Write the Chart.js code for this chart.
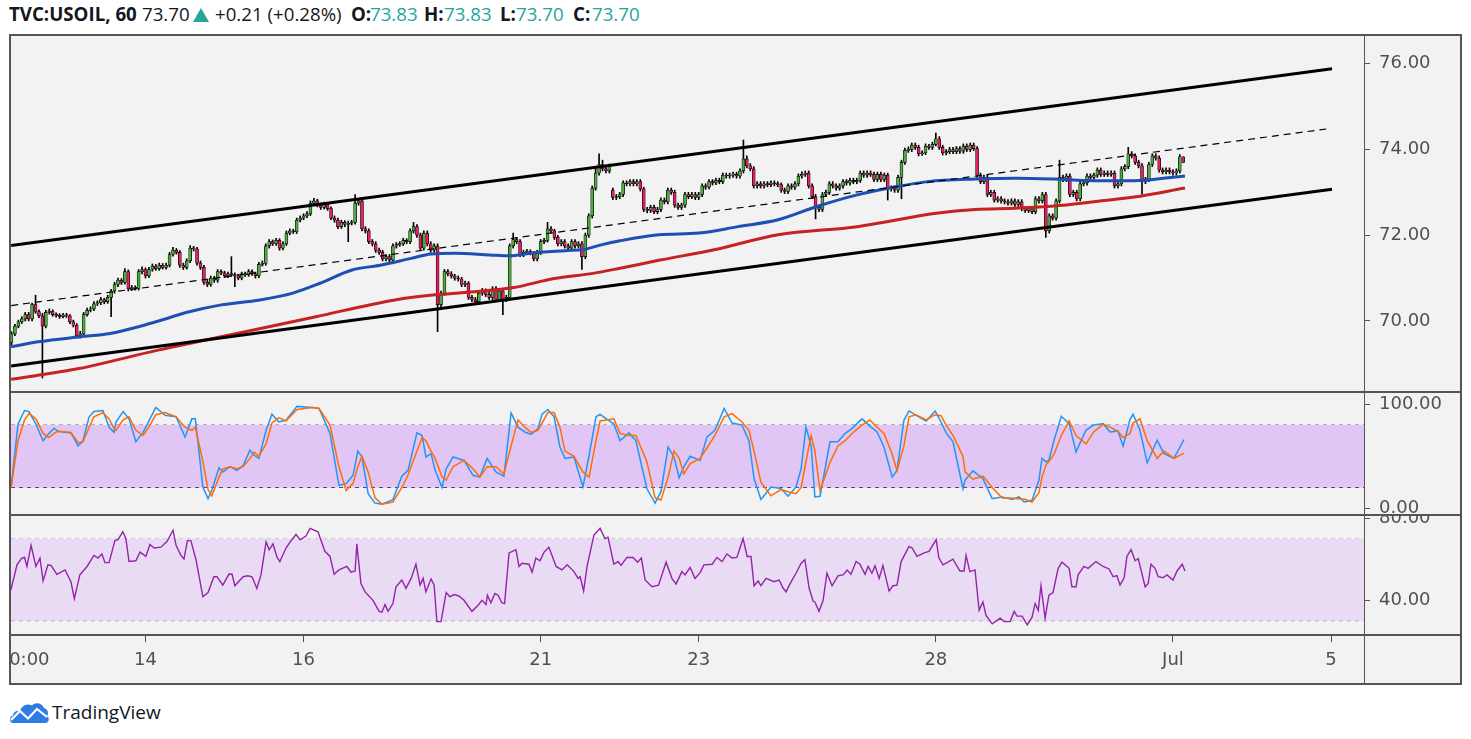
<!DOCTYPE html>
<html>
<head>
<meta charset="utf-8">
<title>TVC:USOIL, 60</title>
<script src="https://cdn.jsdelivr.net/npm/chart.js@4.4.0/dist/chart.umd.min.js"></script>
<style>
  html, body { margin: 0; padding: 0; background: #fff; }
  body { width: 1471px; height: 739px; position: relative; overflow: hidden; font-family: "Open Sans", sans-serif; }
  #head span { position: absolute; top: 2px; font-size: 18.7px; line-height: 24px; color: #131722; white-space: nowrap; }
  #head .b { font-weight: 700; }
  #head .up { color: #26a69a; }
  #head svg { position: absolute; left: 193px; top: 8px; }
  #frame { position: absolute; left: 9px; top: 34px; width: 1449px; height: 647px; border: 2px solid #555; background: #f2f2f2; }
  canvas { position: absolute; left: 11px; }
  .sep { position: absolute; left: 11px; width: 1449px; height: 2px; background: #555; }
  #vsep { position: absolute; left: 1364px; top: 36px; width: 1px; height: 647px; background: #555; }
  #logo { position: absolute; left: 9px; top: 699px; height: 26px; display: flex; align-items: center; }
  #logo span { font-size: 19px; color: #131722; margin-left: 3px; }
</style>
</head>
<body>
<div id="head">
  <span class="b" style="left:9px">TVC:USOIL, 60</span>
  <span style="left:142px">73.70</span>
  <svg width="16" height="14" viewBox="0 0 16 14"><polygon points="8,0 16,14 0,14" fill="#26a69a"/></svg>
  <span style="left:215px">+0.21 (+0.28%)</span>
  <span class="b" style="left:351px">O:</span><span class="up" style="left:370px">73.83</span>
  <span class="b" style="left:424px">H:</span><span class="up" style="left:444px">73.83</span>
  <span class="b" style="left:500px">L:</span><span class="up" style="left:516px">73.70</span>
  <span class="b" style="left:573px">C:</span><span class="up" style="left:592px">73.70</span>
</div>
<div id="frame"></div>
<canvas id="cMain" width="1449" height="355" style="top:36px"></canvas>
<canvas id="cStoch" width="1449" height="121" style="top:393px"></canvas>
<canvas id="cRsi" width="1449" height="167" style="top:516px"></canvas>
<div class="sep" style="top:391px"></div>
<div class="sep" style="top:514px"></div>
<div class="sep" style="top:634px"></div>
<div id="vsep"></div>
<div id="logo">
  <svg width="40" height="24" viewBox="0 0 40 24">
    <path d="M4 23 C0 23 0 16 4 15.5 C4 12 8 10 11 11.5 C12 6 18 3 23 5.5 C26 2 33 2.5 35 8 C39 9 40 14 38 16 C41 18 40 23 36 23 Z" fill="#2d7be5"/>
    <polyline points="2,20 11,11 19,18.5 28,9 38,17" stroke="#fff" stroke-width="2.2" fill="none" stroke-linejoin="round"/>
  </svg>
  <span>TradingView</span>
</div>
<script>
// hourly bars, x = trading-hour index (0 = 14 Jun 00:00, 23 bars per day)
const FIRST_BAR = -39;
const X_MIN = -39.14, X_MAX = 354.6;

const opens = [
  69.50,69.70,69.88,69.98,70.05,70.15,70.05,70.38,70.22,70.12,
  69.88,70.20,70.22,70.15,70.13,70.10,70.14,70.12,69.98,69.90,
  69.65,69.70,70.15,70.25,70.28,70.40,70.42,70.50,70.45,70.55,
  70.70,70.85,70.95,70.90,71.15,70.75,70.78,70.76,71.15,71.20,
  71.05,71.20,71.28,71.22,71.30,71.25,71.30,71.55,71.65,71.60,
  71.30,71.25,71.40,71.70,71.68,71.35,71.25,70.90,70.85,71.00,
  70.95,71.15,71.12,71.05,71.10,71.08,71.05,71.00,71.10,71.08,
  71.15,71.10,71.05,71.32,71.34,71.75,71.85,71.80,71.88,71.70,
  71.80,72.05,72.10,72.08,72.35,72.40,72.45,72.50,72.75,72.80,
  72.70,72.65,72.72,72.62,72.40,72.35,72.20,72.30,72.25,72.28,
  72.30,72.75,72.80,72.15,72.10,71.85,71.80,71.65,71.60,71.45,
  71.50,71.42,71.75,71.78,71.80,71.88,71.85,72.10,72.20,72.00,
  71.70,72.05,71.80,71.65,71.75,70.38,70.65,71.15,71.10,71.05,
  71.00,70.98,70.85,70.88,70.55,70.50,70.45,70.65,70.70,70.62,
  70.55,70.75,70.50,70.70,70.50,70.55,71.75,71.90,71.85,71.55,
  71.60,71.62,71.58,71.45,71.60,71.85,71.88,72.15,72.10,71.95,
  71.80,71.85,71.75,71.70,71.85,71.75,71.80,71.50,72.00,72.45,
  73.10,73.45,73.65,73.55,73.50,73.05,72.88,72.90,72.95,73.22,
  73.20,73.25,73.20,73.25,73.08,72.60,72.58,72.65,72.55,72.60,
  72.82,72.78,73.05,73.00,72.70,72.65,72.70,72.95,72.90,72.95,
  72.88,72.95,73.15,73.12,73.25,73.22,73.28,73.25,73.40,73.38,
  73.40,73.42,73.38,73.50,73.78,73.62,73.55,73.15,73.20,73.15,
  73.20,73.18,73.22,73.20,73.18,73.05,73.02,73.15,73.12,73.20,
  73.38,73.42,73.45,73.15,72.90,72.65,72.60,72.95,73.00,73.20,
  73.15,73.10,73.15,73.25,73.22,73.28,73.25,73.28,73.45,73.40,
  73.45,73.42,73.30,73.42,73.30,73.40,73.08,73.10,73.05,73.35,
  73.70,73.98,74.00,74.10,74.05,73.90,73.92,74.08,74.05,74.12,
  74.25,74.05,73.92,73.95,74.00,73.95,74.02,73.96,74.08,74.00,
  74.10,74.02,73.40,73.25,73.35,72.95,73.00,72.82,72.85,72.80,
  72.78,72.75,72.80,72.72,72.78,72.62,72.58,72.62,72.55,72.85,
  72.80,72.95,72.10,72.45,72.40,72.80,73.35,73.30,73.38,72.95,
  73.00,72.85,73.20,73.22,73.38,73.35,73.40,73.52,73.42,73.45,
  73.42,73.45,73.15,73.20,73.55,73.60,73.90,73.85,73.70,73.62,
  73.25,73.30,73.65,73.85,73.80,73.52,73.48,73.52,73.48,73.45,
  73.50,73.83
];
const highs = [
  69.75,69.92,70.02,70.10,70.20,70.20,70.42,70.60,70.26,70.18,
  70.25,70.28,70.26,70.19,70.17,70.18,70.18,70.15,70.02,69.94,
  69.76,70.20,70.30,70.33,70.45,70.47,70.55,70.53,70.60,70.74,
  70.90,71.00,70.99,71.22,71.19,70.83,70.82,71.20,71.26,71.24,
  71.25,71.33,71.32,71.35,71.34,71.35,71.60,71.72,71.69,71.64,
  71.35,71.45,71.76,71.74,71.72,71.40,71.30,70.95,71.05,71.04,
  71.20,71.19,71.16,71.14,71.50,71.12,71.09,71.14,71.14,71.20,
  71.19,71.14,71.37,71.40,71.80,71.90,71.89,71.93,71.92,71.85,
  72.10,72.15,72.14,72.40,72.45,72.50,72.55,72.80,72.86,72.84,
  72.75,72.77,72.76,72.66,72.45,72.40,72.35,72.34,72.33,72.35,
  72.95,72.86,72.85,72.20,72.15,71.90,71.85,71.70,71.65,71.55,
  71.55,71.80,71.83,71.85,71.93,71.92,72.15,72.30,72.25,72.05,
  72.10,72.10,71.85,71.80,71.80,70.70,71.20,71.20,71.15,71.09,
  71.05,71.02,70.93,70.92,70.60,70.55,70.70,70.76,70.75,70.68,
  70.80,70.80,70.75,70.75,70.60,71.80,72.05,71.95,71.90,71.65,
  71.67,71.66,71.62,71.65,71.90,71.93,72.30,72.20,72.14,72.00,
  71.90,71.90,71.80,71.90,71.90,71.85,71.85,72.05,72.50,73.15,
  73.55,73.90,73.75,73.60,73.66,73.10,72.95,73.00,73.27,73.27,
  73.30,73.30,73.30,73.30,73.12,72.65,72.70,72.70,72.65,72.87,
  72.87,73.10,73.10,73.05,72.75,72.75,73.00,73.00,73.00,73.00,
  73.00,73.20,73.20,73.30,73.30,73.33,73.33,73.45,73.45,73.45,
  73.47,73.47,73.55,74.22,73.85,73.67,73.60,73.25,73.25,73.25,
  73.25,73.27,73.27,73.25,73.22,73.10,73.20,73.20,73.25,73.43,
  73.48,73.50,73.50,73.20,72.95,72.70,73.00,73.05,73.25,73.25,
  73.20,73.20,73.30,73.30,73.33,73.33,73.33,73.50,73.50,73.50,
  73.50,73.47,73.47,73.47,73.45,73.45,73.15,73.15,73.40,73.75,
  74.03,74.06,74.15,74.15,74.10,73.97,74.13,74.12,74.17,74.38,
  74.30,74.10,74.00,74.05,74.05,74.07,74.07,74.13,74.13,74.15,
  74.15,74.07,73.45,73.40,73.40,73.05,73.05,72.90,72.90,72.85,
  72.83,72.85,72.85,72.83,72.83,72.67,72.67,72.67,72.90,72.90,
  73.00,73.00,72.50,72.50,72.85,73.75,73.40,73.43,73.43,73.05,
  73.05,73.25,73.27,73.43,73.43,73.45,73.57,73.57,73.50,73.50,
  73.50,73.50,73.25,73.60,73.65,74.05,73.95,73.90,73.75,73.67,
  73.35,73.70,73.90,73.90,73.85,73.57,73.57,73.57,73.53,73.55,
  73.88,73.83
];
const lows = [
  69.45,69.66,69.84,69.94,70.00,70.00,70.00,70.18,70.08,68.67,
  69.84,70.16,70.11,70.09,70.06,70.07,70.08,69.94,69.86,69.60,
  69.60,69.66,70.11,70.21,70.24,70.36,70.38,70.40,70.41,70.10,
  70.65,70.80,70.85,70.86,70.70,70.71,70.72,70.72,71.10,71.00,
  71.01,71.16,71.18,71.18,71.21,71.21,71.26,71.51,71.56,71.25,
  71.20,71.21,71.36,71.63,71.30,71.20,70.85,70.80,70.81,70.90,
  70.90,71.08,71.01,71.01,71.04,70.80,70.96,70.96,71.04,71.04,
  71.06,71.00,71.01,71.28,71.30,71.70,71.76,71.76,71.65,71.66,
  71.76,72.01,72.04,72.04,72.31,72.36,72.41,72.46,72.70,72.66,
  72.60,72.61,72.58,72.36,72.30,72.15,72.16,72.20,71.85,72.24,
  72.26,72.70,72.10,72.05,71.80,71.75,71.60,71.55,71.40,71.40,
  71.36,71.38,71.70,71.74,71.76,71.80,71.80,72.05,71.95,71.65,
  71.65,71.75,71.60,71.60,69.75,70.33,70.60,71.05,71.00,70.95,
  70.93,70.80,70.80,70.50,70.45,70.38,70.40,70.60,70.57,70.50,
  70.50,70.45,70.45,70.15,70.45,70.50,71.70,71.80,71.50,71.50,
  71.55,71.54,71.40,71.40,71.55,71.80,71.84,72.05,71.90,71.75,
  71.75,71.70,71.65,71.65,71.70,71.70,71.20,71.45,71.95,72.40,
  73.05,73.40,73.50,73.45,73.45,72.83,72.83,72.85,72.90,73.15,
  73.15,73.15,73.15,73.03,72.55,72.52,72.53,72.50,72.50,72.55,
  72.73,72.73,72.95,72.65,72.60,72.60,72.65,72.85,72.85,72.83,
  72.83,72.90,73.07,73.08,73.17,73.18,73.20,73.20,73.33,73.33,
  73.35,73.33,73.33,73.45,73.57,73.50,73.10,73.10,73.10,73.10,
  73.13,73.13,73.15,73.13,73.00,72.97,72.97,73.07,73.07,73.15,
  73.33,73.37,73.10,72.85,72.38,72.55,72.55,72.90,72.95,73.10,
  73.05,73.05,73.10,73.17,73.17,73.20,73.20,73.23,73.35,73.35,
  73.37,73.25,73.25,73.25,73.25,72.82,73.03,73.00,73.00,72.85,
  73.65,73.93,73.95,74.00,73.85,73.86,73.88,74.00,74.00,74.08,
  74.00,73.87,73.87,73.90,73.90,73.90,73.91,73.91,73.95,73.95,
  73.97,73.35,73.20,73.20,72.90,72.90,72.77,72.77,72.75,72.73,
  72.70,72.70,72.67,72.67,72.57,72.53,72.53,72.50,72.50,72.75,
  72.75,71.95,72.05,72.35,72.35,72.75,73.25,73.25,72.90,72.90,
  72.80,72.80,73.15,73.17,73.30,73.30,73.35,73.37,73.37,73.37,
  73.37,73.10,73.10,73.15,73.50,73.55,73.80,73.65,73.57,72.95,
  73.20,73.25,73.60,73.75,73.47,73.43,73.43,73.43,73.40,73.40,
  73.45,73.70
];
const closes = [
  69.70,69.88,69.98,70.05,70.15,70.05,70.38,70.22,70.12,69.88,
  70.20,70.22,70.15,70.13,70.10,70.14,70.12,69.98,69.90,69.65,
  69.70,70.15,70.25,70.28,70.40,70.42,70.50,70.45,70.55,70.70,
  70.85,70.95,70.90,71.15,70.75,70.78,70.76,71.15,71.20,71.05,
  71.20,71.28,71.22,71.30,71.25,71.30,71.55,71.65,71.60,71.30,
  71.25,71.40,71.70,71.68,71.35,71.25,70.90,70.85,71.00,70.95,
  71.15,71.12,71.05,71.10,71.08,71.05,71.00,71.10,71.08,71.15,
  71.10,71.05,71.32,71.34,71.75,71.85,71.80,71.88,71.70,71.80,
  72.05,72.10,72.08,72.35,72.40,72.45,72.50,72.75,72.80,72.70,
  72.65,72.72,72.62,72.40,72.35,72.20,72.30,72.25,72.28,72.30,
  72.75,72.80,72.15,72.10,71.85,71.80,71.65,71.60,71.45,71.50,
  71.42,71.75,71.78,71.80,71.88,71.85,72.10,72.20,72.00,71.70,
  72.05,71.80,71.65,71.75,70.38,70.65,71.15,71.10,71.05,71.00,
  70.98,70.85,70.88,70.55,70.50,70.45,70.65,70.70,70.62,70.55,
  70.75,70.50,70.70,70.50,70.55,71.75,71.90,71.85,71.55,71.60,
  71.62,71.58,71.45,71.60,71.85,71.88,72.15,72.10,71.95,71.80,
  71.85,71.75,71.70,71.85,71.75,71.80,71.50,72.00,72.45,73.10,
  73.45,73.65,73.55,73.50,73.60,72.88,72.90,72.95,73.22,73.20,
  73.25,73.20,73.25,73.08,72.60,72.58,72.65,72.55,72.60,72.82,
  72.78,73.05,73.00,72.70,72.65,72.70,72.95,72.90,72.95,72.88,
  72.95,73.15,73.12,73.25,73.22,73.28,73.25,73.40,73.38,73.40,
  73.42,73.38,73.50,73.78,73.62,73.55,73.15,73.20,73.15,73.20,
  73.18,73.22,73.20,73.18,73.05,73.02,73.15,73.12,73.20,73.38,
  73.42,73.45,73.15,72.90,72.65,72.60,72.95,73.00,73.20,73.15,
  73.10,73.15,73.25,73.22,73.28,73.25,73.28,73.45,73.40,73.45,
  73.42,73.30,73.42,73.30,73.40,73.08,73.10,73.05,73.35,73.70,
  73.98,74.00,74.10,74.05,73.90,73.92,74.08,74.05,74.12,74.25,
  74.05,73.92,73.95,74.00,73.95,74.02,73.96,74.08,74.00,74.10,
  74.02,73.40,73.25,73.35,72.95,73.00,72.82,72.85,72.80,72.78,
  72.75,72.80,72.72,72.78,72.62,72.58,72.62,72.55,72.85,72.80,
  72.95,72.10,72.45,72.40,72.80,73.35,73.30,73.38,72.95,73.00,
  72.85,73.20,73.22,73.38,73.35,73.40,73.52,73.42,73.45,73.42,
  73.45,73.15,73.20,73.55,73.60,73.90,73.85,73.70,73.62,73.25,
  73.30,73.65,73.85,73.80,73.52,73.48,73.52,73.48,73.45,73.50,
  73.83,73.70
];

// moving averages: [bar, value]
const sma100 = [[-39.1,69.40],[-30.7,69.52],[-19.1,69.63],[-10.3,69.71],[1.3,69.94],[13.0,70.22],[21.7,70.37],[33.3,70.49],
  [42.9,70.65],[50.8,70.88],[60.1,71.19],[68.3,71.30],[77.3,71.46],[83.1,71.56],[90.1,71.58],[100.2,71.54],[106.1,71.52],
  [111.9,71.58],[122.1,71.64],[127.9,71.67],[132.3,71.77],[138.1,71.87],[149.4,72.01],[161.1,72.05],[172.4,72.20],[184.1,72.36],
  [195.4,72.67],[207.1,72.94],[218.4,73.13],[227.7,73.25],[241.4,73.31],[253.1,73.33],[264.4,73.31],[276.0,73.27],[287.7,73.27],
  [299.0,73.35],[302.5,73.38]];
const sma200 = [[-39.1,68.64],[-19.4,68.89],[3.6,69.32],[26.6,69.71],[49.6,70.10],[72.6,70.49],[84.3,70.61],[95.6,70.68],
  [107.2,70.78],[118.9,70.99],[130.2,71.11],[138.1,71.23],[149.7,71.42],[165.5,71.66],[184.1,72.01],[207.1,72.20],[230.1,72.51],
  [241.4,72.60],[253.1,72.63],[264.4,72.68],[276.0,72.78],[287.7,72.89],[302.5,73.10]];

// trend channel: [bar, price] end points
const channelUpper = [[-39.1,71.76],[345.3,75.88]];
const channelLower = [[-39.1,68.95],[345.3,73.07]];
const channelMid = [[-39.1,70.36],[343.9,74.48]];

// stochastic: [bar, %K, %D]
const stoch = [
  [-39.1,20.5,20],[-37.1,81,65],[-35.2,94,85],[-33.9,93,91],[-31.9,81,86],[-29.8,65,72],[-28.1,72,68],[-26.6,77,72],[-25.5,74,74],[-21.7,72.5,73],
  [-19.6,60,63],[-18.2,65,64],[-16.4,88,78],[-15.0,93,88],[-12.4,94,92],[-10.6,78,86],[-9.2,73,77],[-8.6,83,75],[-6.5,93,85],[-4.8,86,88],
  [-2.8,64,75],[-0.7,73,70],[1.3,86,80],[3.0,97,90],[5.7,89.5,92],[8.9,88,88],[11.5,68.6,78],[13.5,86,75],[14.5,86,78],[16.7,20.5,45],
  [18.2,9.3,18],[19.3,17.3,12],[21.4,39,30],[22.5,35,38],[24.6,40,40],[26.6,36.5,38],[28.4,41,40],[30.4,55.8,48],[31.6,51,54],[33.0,48,50],
  [35.1,75,62],[36.8,90.4,82],[38.8,83,87],[40.9,84.6,84],[44.1,98,95],[48.5,97,97],[50.5,96,96],[53.7,72,80],[56.3,22,40],[58.4,23.7,17],
  [60.4,31.7,24],[61.8,55,40],[63.0,49.4,50],[64.8,14.1,35],[66.8,5,10],[68.8,3.9,4],[72.0,8.4,6],[74.6,30.8,20],[76.4,36.5,32],[79.0,72.5,55],
  [80.5,70,68],[81.6,49.4,65],[83.1,52.6,55],[84.3,36.5,48],[86.3,20,30],[87.5,38,27],[89.5,49.4,40],[92.7,46,46],[95.3,31.7,38],[97.3,30,30],
  [99.4,48,40],[102.0,35,40],[104.3,30.8,33],[106.4,91.7,60],[108.4,78,85],[110.4,73.4,78],[112.2,71,73],[114.2,76.6,75],[115.4,90.4,82],[117.1,95,92],
  [118.9,88,92],[120.6,59,78],[122.1,48,55],[124.7,49.4,50],[127.3,20.5,35],[129.1,51,30],[131.1,88,65],[132.3,90.4,84],[136.3,81,86],[138.1,65,72],
  [140.7,72.5,70],[142.7,65,70],[145.9,19,45],[148.3,5,10],[150.0,16,8],[152.1,59,30],[153.8,49.4,55],[155.3,29.5,48],[156.7,40,33],[158.5,50,43],
  [161.4,46,48],[163.4,68.6,58],[165.7,75,70],[168.4,96,88],[170.7,82,91],[173.6,80,83],[175.6,65,75],[177.1,28.5,55],[179.1,8.4,25],[182.0,20.5,12],
  [184.9,19,18],[187.0,11.6,16],[189.3,20.5,14],[190.8,38,20],[192.2,78,45],[193.7,60.6,70],[194.8,10.9,55],[196.3,11.6,17],[199.2,64,44],[201.5,64,60],
  [203.6,72,65],[205.6,76.6,72],[208.5,86,80],[210.8,79,85],[212.9,73.4,78],[214.9,59,72],[217.3,30,52],[218.7,36.5,36],[220.7,84.6,60],[222.2,93.6,88],
  [224.2,89.5,90],[227.2,84,85],[229.8,93.6,90],[231.5,83,89],[233.0,72.5,80],[235.0,64,70],[237.9,19,50],[238.5,27,35],[240.8,36,28],[243.7,28.5,31],
  [246.4,9.3,20],[249.3,10.9,10],[252.2,8.4,10],[254.2,10.9,9],[255.7,6.1,9],[258.0,7.7,6],[260.0,27,15],[260.9,48,30],[262.1,44.6,42],[262.9,46.2,45],
  [264.4,65.4,52],[266.5,88.5,70],[268.8,81.4,84],[270.8,54.2,70],[273.7,75,62],[275.8,80,73],[278.7,81.4,81],[280.7,73.4,78],[283.0,74.4,74],[284.5,59.7,68],
  [286.5,85.3,72],[287.4,90.4,82],[289.4,75,86],[291.5,43.6,65],[294.4,65.4,48],[296.4,52.6,55],[299.3,48,48],[302.2,66,53]
];
const stochBand = [80, 20];

// RSI: [bar, value]
const rsi = [
  [-39.2,44.9],[-37.4,57.3],[-36.0,60.6],[-35.2,60.9],[-34.5,56.5],[-33.3,66.8],[-31.9,56.5],[-30.7,60.6],[-29.8,49.4],[-28.4,57.3],
  [-27.5,57.0],[-25.8,52.7],[-23.4,54.8],[-21.7,49.1],[-20.7,40.8],[-19.1,52.4],[-17.0,56.5],[-15.0,61.9],[-13.8,60.6],[-12.7,62.6],
  [-11.8,58.4],[-10.6,58.4],[-8.9,69.1],[-8.0,69.6],[-6.6,73.4],[-5.7,70.1],[-4.8,58.9],[-2.8,59.3],[-1.6,63.5],[0.1,61.4],
  [1.3,67.2],[2.5,65.5],[4.5,65.9],[6.3,68.8],[8.0,74.2],[8.9,66.8],[10.3,61.9],[11.2,60.2],[12.2,69.1],[13.2,69.1],
  [14.7,59.8],[16.7,41.7],[18.2,43.8],[19.9,51.5],[20.8,51.5],[22.5,47.4],[24.3,52.8],[25.2,52.7],[26.0,47.1],[28.4,51.5],
  [29.8,52.0],[31.0,51.5],[32.4,45.8],[33.6,52.4],[35.1,68.5],[36.0,64.7],[37.1,67.5],[38.3,60.9],[39.1,58.9],[40.9,65.5],
  [42.1,68.5],[43.8,72.1],[45.0,69.5],[46.7,71.3],[47.9,75.1],[50.2,73.4],[52.2,63.9],[53.7,61.4],[54.9,52.7],[56.3,54.8],
  [58.6,56.5],[59.8,53.7],[61.0,54.3],[61.5,67.5],[62.7,48.2],[63.9,44.1],[66.2,40.0],[68.0,34.6],[68.8,34.2],[69.7,37.9],
  [70.6,34.6],[72.0,38.4],[72.9,46.6],[74.6,49.9],[75.8,45.8],[77.3,50.7],[78.7,57.6],[79.9,47.4],[80.8,50.7],[81.6,44.1],
  [83.1,50.4],[84.0,47.4],[84.8,29.6],[86.0,29.6],[87.5,43.8],[88.6,41.7],[89.8,42.8],[91.2,42.1],[92.7,40.0],[95.0,34.6],
  [96.8,37.6],[97.9,40.0],[99.1,37.9],[99.5,42.5],[100.5,38.8],[101.7,43.3],[102.6,42.5],[103.7,38.8],[104.5,38.4],[105.8,63.1],
  [107.8,64.7],[108.7,56.5],[109.6,58.1],[111.6,57.6],[112.5,53.7],[113.6,60.6],[114.8,59.3],[116.0,63.5],[117.4,65.9],[119.5,56.5],
  [121.2,54.8],[122.7,57.3],[124.7,54.0],[125.9,50.7],[126.5,51.5],[127.5,44.5],[128.5,56.5],[130.5,71.8],[132.3,75.1],[133.7,70.1],
  [134.6,70.8],[136.3,57.6],[137.5,58.9],[138.4,57.0],[140.1,60.9],[141.9,60.9],[143.2,58.6],[144.3,60.6],[145.4,49.9],[147.4,46.6],
  [149.3,47.4],[151.5,58.6],[153.2,50.7],[154.4,47.9],[156.1,54.0],[157.0,52.4],[158.5,56.0],[159.9,50.7],[161.4,53.5],[162.5,57.3],
  [164.9,57.6],[166.3,60.9],[167.8,58.9],[169.2,62.6],[170.7,60.6],[172.1,60.9],[173.0,65.5],[173.9,70.1],[175.1,61.4],[176.2,61.4],
  [177.1,47.1],[178.3,49.4],[179.1,47.1],[180.6,50.7],[182.9,49.1],[184.4,49.9],[185.5,46.1],[186.4,44.1],[187.9,49.1],[189.3,53.2],
  [190.8,58.1],[191.9,59.8],[193.1,46.1],[194.3,39.5],[194.8,39.2],[196.0,34.6],[197.2,40.0],[198.3,53.2],[199.8,47.1],[201.5,51.9],
  [203.0,52.4],[204.2,54.8],[205.3,52.7],[206.8,58.9],[207.9,57.6],[209.4,52.7],[210.3,56.5],[211.4,53.2],[212.3,56.8],[213.5,50.7],
  [214.6,57.0],[216.4,44.5],[217.5,47.1],[218.7,47.4],[219.9,58.9],[222.2,66.3],[223.1,65.5],[224.5,61.4],[226.6,63.1],[228.0,63.9],
  [230.1,69.6],[230.9,60.6],[232.1,57.3],[235.0,60.1],[237.0,54.3],[238.2,54.3],[238.8,61.9],[239.9,54.0],[241.4,54.8],[242.6,35.1],
  [243.7,39.2],[244.6,32.6],[246.4,28.5],[248.7,31.3],[249.9,29.6],[251.6,29.6],[252.8,34.6],[253.6,32.3],[255.1,32.3],[256.6,28.0],
  [258.0,31.8],[258.9,38.4],[259.8,35.1],[260.6,47.1],[261.8,31.3],[262.9,42.5],[264.1,43.8],[265.6,55.6],[266.7,58.6],[268.8,55.6],
  [269.6,46.6],[270.8,46.6],[271.4,52.4],[273.1,56.5],[274.3,55.6],[276.6,58.9],[278.7,56.5],[280.4,55.3],[281.6,51.5],[282.7,52.0],
  [283.6,47.4],[284.8,51.0],[285.6,61.4],[286.8,64.7],[288.0,59.3],[288.9,60.3],[290.9,46.6],[291.8,48.2],[292.6,57.6],[293.8,55.6],
  [294.7,51.5],[296.1,51.0],[297.3,52.4],[299.0,49.9],[300.2,54.3],[301.7,57.6],[302.5,54.3]
];
const rsiBand = [70, 30];

// axes
const timeTicks = [-33.8, 0, 46, 115, 161, 230, 299, 345];
const timeLabels = ['0:00', '14', '16', '21', '23', '28', 'Jul', '5'];
const priceTicks = [70, 72, 74, 76];
const stochTicks = [0, 100];
const rsiTicks = [40, 80];

const GREEN = '#4cae3c', PINK = '#e91e63';
const AXIS_W = 96, AXIS_COLOR = '#505050';
const AXIS_FONT = { family: 'DejaVu Sans', size: 18 };

const xy = arr => arr.map(p => ({ x: p[0], y: p[1] }));
const span = v => [{ x: X_MIN, y: v }, { x: X_MAX, y: v }];

function lineSet(data, color, width, extra) {
  return Object.assign({ type: 'line', data, borderColor: color, borderWidth: width,
    pointRadius: 0, fill: false, tension: 0 }, extra || {});
}

// keep the plot area flush with the canvas: drop the label overhang padding
function noPad(s) { s.paddingTop = 0; s.paddingBottom = 0; s.paddingLeft = 0; s.paddingRight = 0; }

function rightAxis(min, max, ticks) {
  return {
    position: 'right', min, max, bounds: 'data',
    afterFit: s => { s.width = AXIS_W; noPad(s); },
    afterBuildTicks: s => { s.ticks = ticks.map(v => ({ value: v })); },
    grid: { drawOnChartArea: false, drawTicks: true, tickLength: 6, color: AXIS_COLOR },
    border: { display: false },
    ticks: { color: AXIS_COLOR, font: AXIS_FONT, padding: 9, callback: v => v.toFixed(2) }
  };
}

const hiddenX = { type: 'linear', min: X_MIN, max: X_MAX, offset: false, display: false };

function opts(x, y) {
  return {
    responsive: false, animation: false, events: [],
    layout: { padding: 0, autoPadding: false },
    plugins: { legend: { display: false }, tooltip: { enabled: false } },
    scales: { x, y }
  };
}

// main price pane
const bodies = closes.map((c, k) => ({ x: FIRST_BAR + k, y: [opens[k], c] }));
const wicks = closes.map((c, k) => ({ x: FIRST_BAR + k, y: [lows[k], highs[k]] }));
const bodyColors = closes.map((c, k) => (c >= opens[k] ? GREEN : PINK));

new Chart(document.getElementById('cMain'), {
  type: 'bar',
  data: {
    datasets: [
      lineSet(xy(channelUpper), '#000', 3, { order: 0 }),
      lineSet(xy(channelLower), '#000', 3, { order: 0 }),
      lineSet(xy(channelMid), '#000', 1.2, { borderDash: [7, 5], order: 1 }),
      lineSet(xy(sma100), '#1f4fb5', 3, { cubicInterpolationMode: 'monotone', order: 2 }),
      lineSet(xy(sma200), '#c62222', 3, { cubicInterpolationMode: 'monotone', order: 2 }),
      { type: 'bar', data: bodies, backgroundColor: bodyColors, borderColor: '#000', borderWidth: 0.7,
        borderSkipped: false, barThickness: 3, grouped: false, minBarLength: 1, order: 3 },
      { type: 'bar', data: wicks, backgroundColor: '#000', barThickness: 1, grouped: false, order: 4 }
    ]
  },
  options: opts(hiddenX, rightAxis(68.367, 76.646, priceTicks))
});

// stochastic pane
new Chart(document.getElementById('cStoch'), {
  type: 'line',
  data: {
    datasets: [
      lineSet(span(stochBand[0]), '#5e4078', 1, { borderDash: [4, 4], order: 3 }),
      lineSet(span(stochBand[1]), '#5e4078', 1, { borderDash: [4, 4], fill: '-1', backgroundColor: '#e1c5f4', order: 2 }),
      lineSet(stoch.map(p => ({ x: p[0], y: p[1] })), '#2196f3', 1.5, { order: 1 }),
      lineSet(stoch.map(p => ({ x: p[0], y: p[2] })), '#ff6d00', 1.5, { order: 0 })
    ]
  },
  options: opts(hiddenX, rightAxis(-5.48, 110.87, stochTicks))
});

// RSI pane with the time axis
new Chart(document.getElementById('cRsi'), {
  type: 'line',
  data: {
    datasets: [
      lineSet(span(rsiBand[0]), '#bcaac9', 1, { borderDash: [4, 4], order: 2 }),
      lineSet(span(rsiBand[1]), '#bcaac9', 1, { borderDash: [4, 4], fill: '-1', backgroundColor: '#e9dbf3', order: 1 }),
      lineSet(xy(rsi), '#9424a8', 1.4, { order: 0 })
    ]
  },
  options: opts({
    type: 'linear', min: X_MIN, max: X_MAX, offset: false, position: 'bottom', bounds: 'data',
    afterFit: s => { s.height = 49; noPad(s); },
    afterBuildTicks: s => { s.ticks = timeTicks.map(v => ({ value: v })); },
    grid: { drawOnChartArea: false, drawTicks: true, tickLength: 8,
      tickColor: c => (c.index === 0 ? 'rgba(0,0,0,0)' : AXIS_COLOR) },
    border: { display: false },
    ticks: { autoSkip: false, maxRotation: 0, color: AXIS_COLOR, font: AXIS_FONT, padding: 8,
      callback: (v, i) => timeLabels[i] }
  }, rightAxis(23.56, 81.12, rsiTicks))
});
</script>
</body>
</html>
